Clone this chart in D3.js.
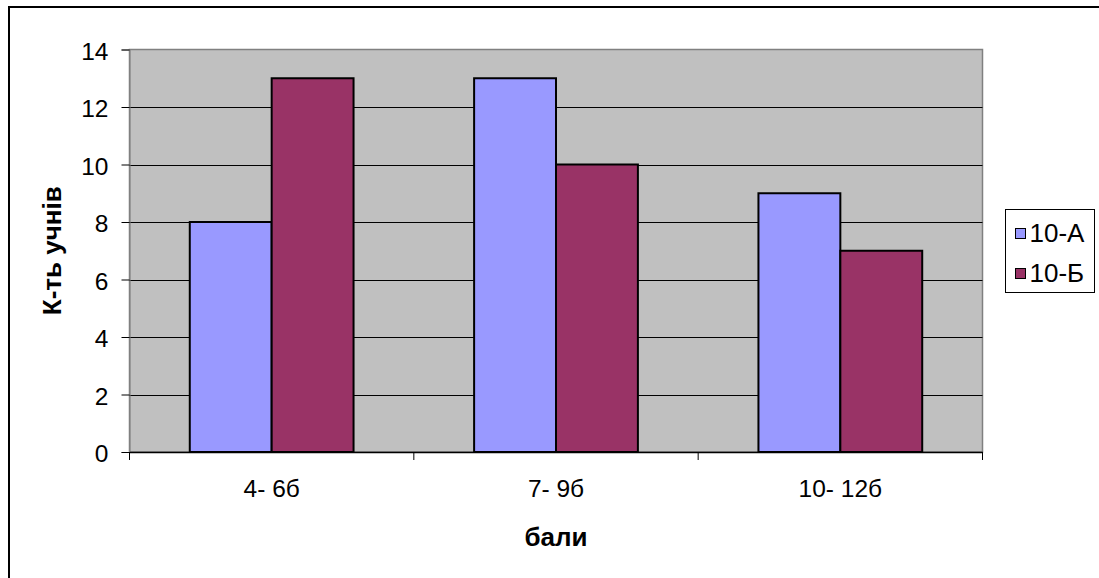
<!DOCTYPE html>
<html><head><meta charset="utf-8">
<script src="https://cdn.jsdelivr.net/npm/d3@7"></script>
<style>body{margin:0;background:#fff}svg{display:block}text{font-family:"Liberation Sans",Arial,sans-serif}</style>
</head><body><svg id="c" width="1099" height="578"></svg>
<script>
const categories = ["4- 6б", "7- 9б", "10- 12б"];
const seriesNames = ["10-А", "10-Б"];
const seriesA = [8, 13, 9];
const seriesB = [13, 10, 7];
const yTicks = [0, 2, 4, 6, 8, 10, 12, 14];
const colors = ["#9999FF", "#993366"];

const svg = d3.select("#c");
const L = 129.5, R = 982.5, T = 49.5, B = 452;
// outer border (left and top visible)
svg.append("rect").attr("x", 9).attr("y", 7).attr("width", 1200).attr("height", 700)
  .attr("fill", "none").attr("stroke", "#000").attr("stroke-width", 2);

const x = d3.scaleBand().domain(categories).range([L, R]);
const y = d3.scaleLinear().domain([0, 14]).range([B, T]);
const sub = d3.scaleBand().domain(seriesNames).range([x.bandwidth()*0.212, x.bandwidth()*0.788]);

svg.append("rect").attr("x", L).attr("y", T).attr("width", R - L).attr("height", B - T)
  .attr("fill", "#C0C0C0").attr("stroke", "#808080").attr("stroke-width", 1.5);

// gridlines
svg.append("g").selectAll("line").data(yTicks.filter(d => d > 0 && d < 14)).join("line")
  .attr("x1", L).attr("x2", R).attr("y1", d => Math.round(y(d)) + 0.5).attr("y2", d => Math.round(y(d)) + 0.5)
  .attr("stroke", "#000").attr("stroke-width", 1);

// y axis
const ya = svg.append("g").attr("transform", `translate(${L},0)`)
  .call(d3.axisLeft(y).tickValues(yTicks).tickSize(8).tickPadding(13));
ya.select(".domain").attr("stroke", "#808080");
ya.selectAll("text").attr("font-size", 24.5).attr("fill", "#000").attr("dy", "0.4em");

// x axis
const xa = svg.append("g").attr("transform", `translate(0,${B})`)
  .call(d3.axisBottom(x).tickSize(0).tickPadding(28));
xa.select(".domain").attr("stroke", "#000").attr("stroke-width", 1.5);
xa.selectAll("text").attr("font-size", 24.5).attr("fill", "#000");
// boundary ticks
const bounds = [L, ...categories.map(c => x(c) + x.bandwidth())];
svg.append("g").selectAll("line").data(bounds).join("line")
  .attr("x1", d => d).attr("x2", d => d).attr("y1", B).attr("y2", B + 8).attr("stroke", "#000");

// bars
const data = [seriesA, seriesB];
data.forEach((vals, si) => {
  svg.append("g").selectAll("rect").data(vals).join("rect")
    .attr("x", (d, i) => x(categories[i]) + sub(seriesNames[si]))
    .attr("y", d => y(d))
    .attr("width", sub.bandwidth())
    .attr("height", d => y(0) - y(d))
    .attr("fill", colors[si]).attr("stroke", "#000").attr("stroke-width", 2);
});

// axis titles
svg.append("text").attr("x", (L + R) / 2).attr("y", 546).attr("text-anchor", "middle")
  .attr("font-size", 26).attr("font-weight", "bold").text("бали");
svg.append("text").attr("transform", `translate(61,${(T + B) / 2}) rotate(-90)`).attr("text-anchor", "middle")
  .attr("font-size", 26).attr("font-weight", "bold").text("К-ть учнів");

// legend
const lg = svg.append("g");
lg.append("rect").attr("x", 1005.5).attr("y", 209.5).attr("width", 89).attr("height", 83)
  .attr("fill", "#fff").attr("stroke", "#000").attr("stroke-width", 1);
seriesNames.forEach((n, i) => {
  lg.append("rect").attr("x", 1015.5).attr("y", 228.5 + i * 40).attr("width", 10).attr("height", 10)
    .attr("fill", colors[i]).attr("stroke", "#000").attr("stroke-width", 1);
  lg.append("text").attr("x", 1029.5).attr("y", 242 + i * 40).attr("font-size", 26).text(n);
});
</script></body></html>
